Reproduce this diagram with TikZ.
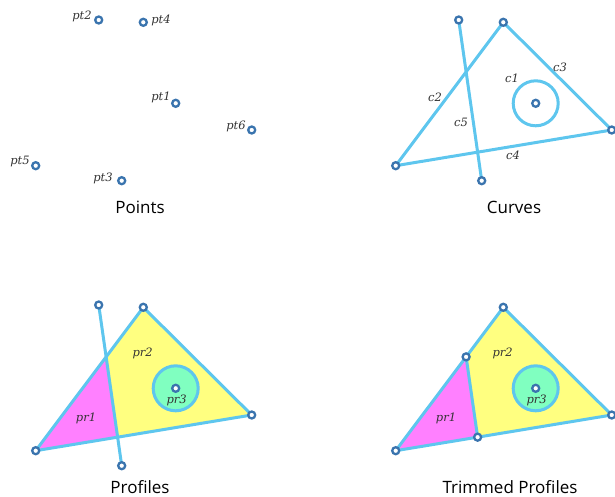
\documentclass[tikz,border=0pt]{standalone}
\usepackage{fontspec}
\setmainfont{DejaVu Serif}
\setsansfont{Open Sans}
\definecolor{ptblue}{HTML}{3A74AE}
\definecolor{crv}{HTML}{5EC6EE}
\definecolor{yel}{HTML}{FFFF80}
\definecolor{mag}{HTML}{FF80FF}
\definecolor{grn}{HTML}{80FFC0}
\definecolor{txt}{HTML}{333333}
\newcommand\setpts[3]{%
  \coordinate (#1p1) at ({175.7+#2},{103.3+#3});
  \coordinate (#1p2) at ({98.7+#2},{20+#3});
  \coordinate (#1p3) at ({121.7+#2},{180.7+#3});
  \coordinate (#1p4) at ({143.3+#2},{22.3+#3});
  \coordinate (#1p5) at ({35.7+#2},{165.7+#3});
  \coordinate (#1p6) at ({251.7+#2},{130+#3});
}
\begin{document}
\begin{tikzpicture}[x=1pt,y=-1pt,
  mk/.style={circle,draw=ptblue,line width=2.3pt,fill=white,inner sep=0pt,minimum size=7pt},
  crvline/.style={draw=crv,line width=3pt},
  lab/.style={font=\itshape\fontsize{11.5}{12}\selectfont,text=txt,inner sep=0pt},
  ttl/.style={font=\sffamily\fontsize{17}{17}\selectfont,text=black,inner sep=0pt,anchor=base}]
\useasboundingbox (0,0) rectangle (615,497);
\setpts{a}{0}{0}
\setpts{b}{360}{0}
\setpts{c}{0}{285}
\setpts{d}{360}{285}
\coordinate (cI1) at (intersection of cp2--cp3 and cp5--cp4);
\coordinate (cI2) at (intersection of cp2--cp3 and cp5--cp6);
\coordinate (dI1) at (intersection of dp2--dp3 and dp5--dp4);
\coordinate (dI2) at (intersection of dp2--dp3 and dp5--dp6);
% ---- Points
\foreach \i in {1,...,6} \node[mk] (am\i) at (ap\i) {};
\node[lab] (l1) at (161,97) {pt1};
\node[lab] (l2) at (82,16) {pt2};
\node[lab] (l3) at (103,178) {pt3};
\node[lab] (l4) at (161,20) {pt4};
\node[lab] (l5) at (20,162) {pt5};
\node[lab] (l6) at (236,126) {pt6};
\node[ttl] (t1) at (140,213.5) {Points};
% ---- Curves
\draw[crvline] (bp4) -- (bp6) -- (bp5) -- cycle;
\draw[crvline] (bp2) -- (bp3);
\draw[crvline] (bp1) circle[radius=22.5];
\foreach \i in {1,...,6} \node[mk] (bm\i) at (bp\i) {};
\node[lab] (lc1) at (512,78) {c1};
\node[lab] (lc2) at (435,97) {c2};
\node[lab] (lc3) at (560,67) {c3};
\node[lab] (lc4) at (513,155) {c4};
\node[lab] (lc5) at (461,122) {c5};
\node[ttl] (t2) at (514,213.5) {Curves};
% ---- Profiles
\fill[mag] (cp5) -- (cI1) -- (cI2) -- cycle;
\fill[yel] (cI1) -- (cp4) -- (cp6) -- (cI2) -- cycle;
\fill[grn] (cp1) circle[radius=22.5];
\draw[crvline] (cp4) -- (cp6) -- (cp5) -- cycle;
\draw[crvline] (cp2) -- (cp3);
\draw[crvline] (cp1) circle[radius=22.5];
\foreach \i in {1,...,6} \node[mk] (cm\i) at (cp\i) {};
\node[lab] (lp1) at (86,418) {pr1};
\node[lab] (lp2) at (142.7,353) {pr2};
\node[lab] (lp3) at (176.7,400) {pr3};
\node[ttl] (t3) at (140,493) {Profiles};
% ---- Trimmed Profiles
\fill[mag] (dp5) -- (dI1) -- (dI2) -- cycle;
\fill[yel] (dI1) -- (dp4) -- (dp6) -- (dI2) -- cycle;
\fill[grn] (dp1) circle[radius=22.5];
\draw[crvline,line join=round] (dp4) -- (dp6) -- (dp5) -- cycle;
\draw[crvline] (dI1) -- (dI2);
\draw[crvline] (dp1) circle[radius=22.5];
\foreach \i in {1,4,5,6} \node[mk] (dm\i) at (dp\i) {};
\node[mk] (dmI1) at (dI1) {};
\node[mk] (dmI2) at (dI2) {};
\node[lab] (lq1) at (446,418) {pr1};
\node[lab] (lq2) at (502.7,353) {pr2};
\node[lab] (lq3) at (536.7,400) {pr3};
\node[ttl] (t4) at (510,493) {Trimmed Profiles};
\end{tikzpicture}
\end{document}
